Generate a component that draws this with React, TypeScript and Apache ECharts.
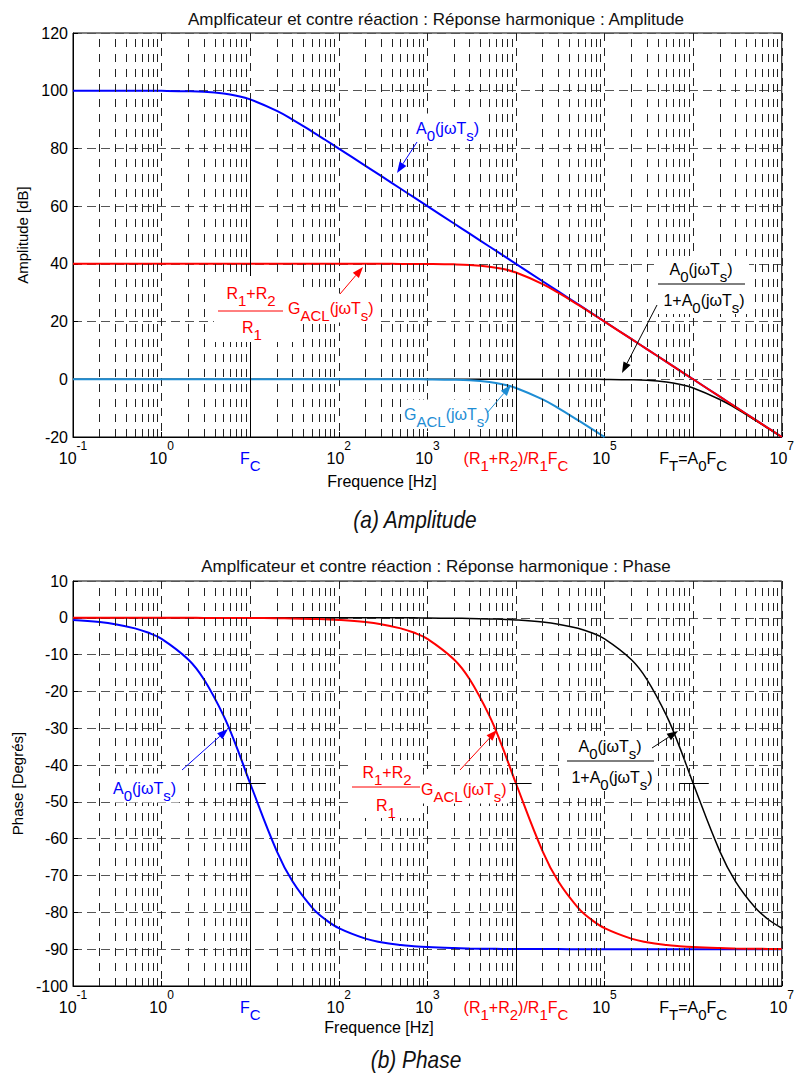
import React, { useEffect, useRef } from 'react';
import * as echarts from 'echarts';

// ---------- data ----------
const FREQ = [
  0.1, 0.2, 0.3, 0.5, 0.7,
  1, 2, 3, 5, 7,
  10, 20, 30, 50, 70,
  100, 200, 300, 500, 700,
  1e3, 2e3, 3e3, 5e3, 7e3,
  1e4, 2e4, 3e4, 5e4, 7e4,
  1e5, 2e5, 3e5, 5e5, 7e5,
  1e6, 2e6, 3e6, 5e6, 7e6,
  1e7,
];

// Amplitude [dB]
const AMP_A0 = [
  100.0, 100.0, 100.0, 99.99, 99.98,
  99.96, 99.83, 99.63, 99.03, 98.27,
  96.99, 93.01, 90.0, 85.85, 83.01,
  79.96, 73.98, 70.46, 66.02, 63.1,
  60.0, 53.98, 50.46, 46.02, 43.1,
  40.0, 33.98, 30.46, 26.02, 23.1,
  20.0, 13.98, 10.46, 6.02, 3.1,
  0.0, -6.02, -9.54, -13.98, -16.9,
  -20.0,
];
const AMP_CL = [
  40, 40, 40, 40, 40,
  40, 40, 40, 40, 40,
  40, 40, 40, 40, 40,
  40.0, 40.0, 40.0, 39.99, 39.98,
  39.96, 39.83, 39.63, 39.03, 38.27,
  36.99, 33.01, 30.0, 25.85, 23.01,
  19.96, 13.98, 10.46, 6.02, 3.1,
  0.0, -6.02, -9.54, -13.98, -16.9,
  -20.0,
];
const AMP_GACL = [
  0, 0, 0, 0, 0,
  0, 0, 0, 0, 0,
  0, 0, 0, 0, 0,
  0.0, 0.0, 0.0, -0.01, -0.02,
  -0.04, -0.17, -0.37, -0.97, -1.73,
  -3.01, -6.99, -10.0, -14.15, -16.99,
  -20.04,
];
const AMP_FB = [
  0, 0, 0, 0, 0,
  0, 0, 0, 0, 0,
  0, 0, 0, 0, 0,
  0, 0, 0, 0, 0,
  0, 0, 0, 0, 0,
  0.0, 0.0, 0.0, -0.01, -0.02,
  -0.04, -0.17, -0.37, -0.97, -1.73,
  -3.01, -6.99, -10.0, -14.15, -16.99,
  -20.04,
];

// Phase [degrees]
const PH_A0 = [
  -0.57, -1.15, -1.72, -2.86, -4.0,
  -5.71, -11.31, -16.7, -26.57, -34.99,
  -45.0, -63.43, -71.57, -78.69, -81.87,
  -84.29, -87.14, -88.09, -88.85, -89.18,
  -89.43, -89.71, -89.81, -89.89, -89.92,
  -89.94, -89.97, -89.98, -89.99, -89.99,
  -89.99, -90.0, -90.0, -90.0, -90.0,
  -90.0, -90.0, -90.0, -90.0, -90.0,
  -90.0,
];
const PH_CL = [
  0, 0, 0, 0, 0,
  -0.01, -0.01, -0.02, -0.03, -0.04,
  -0.06, -0.11, -0.17, -0.29, -0.4,
  -0.57, -1.15, -1.72, -2.86, -4.0,
  -5.71, -11.31, -16.7, -26.57, -34.99,
  -45.0, -63.43, -71.57, -78.69, -81.87,
  -84.29, -87.14, -88.09, -88.85, -89.18,
  -89.43, -89.71, -89.81, -89.89, -89.92,
  -89.94,
];
const PH_FB = [
  0, 0, 0, 0, 0,
  0, 0, 0, 0, 0,
  0, 0, 0, 0, 0,
  0, 0, 0, 0, 0,
  -0.06, -0.11, -0.17, -0.29, -0.4,
  -0.57, -1.15, -1.72, -2.86, -4.0,
  -5.71, -11.31, -16.7, -26.57, -34.99,
  -45.0, -63.43, -71.57, -78.69, -81.87,
  -84.29,
];

// tick labels of the log axis (10^-1 ... 10^7)
const X_TICK_LABELS = [
  '{n|10}{sup|-1}',
  '{n|10}{sup|0}',
  '{b|F}{bs|C}',
  '{n|10}{sup|2}',
  '{n|10}{sup|3}',
  '{r|(R}{rs|1}{r|+R}{rs|2}{r|)/R}{rs|1}{r|F}{rs|C}',
  '{n|10}{sup|5}',
  '{n|F}{ns|T}{n|=A}{ns|0}{n|F}{ns|C}',
  '{n|10}{sup|7}',
];
const AMP_AXIS = { min: -20, max: 120, interval: 20 };
const PH_AXIS = { min: -100, max: 10, interval: 10 };

// characteristic frequencies (index in FREQ)
const IDX_FC = 10;   // 10 Hz
const IDX_CL = 25;   // 1e4 Hz
const IDX_FT = 35;   // 1e6 Hz
const MARK45 = [[7, 15], [7e3, 1.5e4], [7e5, 1.5e6]];

// ---------- styling ----------
const FONT = '"Liberation Sans", Arial, Helvetica, sans-serif';
const BLUE = '#0000ff';
const RED = '#ff0000';
const LBLUE = '#1e8dd4';
const BLACK = '#000000';

const MINOR_X: number[] = [];
for (let e = -1; e < 7; e++) {
  for (let m = 2; m <= 9; m++) MINOR_X.push(m * Math.pow(10, e));
}

function pairs(vals: number[]) {
  return vals.map((v, i) => [FREQ[i], v]);
}

function axisRich() {
  const mk = (c: string) => ({
    base: { fontSize: 16, color: c, fontFamily: FONT },
    sub: { fontSize: 15, color: c, fontFamily: FONT, padding: [14, 0, 0, 0] },
  });
  const k = mk(BLACK), b = mk(BLUE), r = mk(RED);
  return {
    n: k.base,
    ns: k.sub,
    sup: { fontSize: 12, color: BLACK, fontFamily: FONT, padding: [0, 0, 24, 0] },
    b: b.base,
    bs: b.sub,
    r: r.base,
    rs: r.sub,
  };
}

function annRich(c: string) {
  return {
    a: { fontSize: 16, fontFamily: FONT, fill: c, color: c },
    as: { fontSize: 15, fontFamily: FONT, fill: c, color: c, padding: [14, 0, 0, 0] },
  };
}

function txt(text: string, x: number, y: number, color: string, align: string, bg = true) {
  return {
    type: 'text',
    z: 100,
    x,
    y,
    style: {
      text,
      x: 0,
      y: 0,
      rich: annRich(color),
      fill: color,
      fontFamily: FONT,
      fontSize: 16,
      align,
      verticalAlign: 'middle',
      textAlign: align,
      textVerticalAlign: 'middle',
      backgroundColor: bg ? '#ffffff' : undefined,
      padding: bg ? [0, 3, 0, 3] : 0,
    },
  };
}

function arrow(x1: number, y1: number, x2: number, y2: number, color: string) {
  const dx = x2 - x1, dy = y2 - y1;
  const L = Math.hypot(dx, dy);
  const ux = dx / L, uy = dy / L;
  const hl = 11, hw = 4;
  const bx = x2 - ux * hl, by = y2 - uy * hl;
  return [
    { type: 'line', z: 101, shape: { x1, y1, x2: bx, y2: by }, style: { stroke: color, lineWidth: 1 } },
    {
      type: 'polygon',
      z: 101,
      shape: { points: [[x2, y2], [bx - uy * hw, by + ux * hw], [bx + uy * hw, by - ux * hw]] },
      style: { fill: color },
    },
  ];
}

function bar(x1: number, x2: number, y: number, color: string) {
  return { type: 'line', z: 101, shape: { x1, y1: y, x2, y2: y }, style: { stroke: color, lineWidth: 1 } };
}

function whiteBox(x: number, y: number, w: number, h: number) {
  return { type: 'rect', z: 99, shape: { x, y, width: w, height: h }, style: { fill: '#ffffff' } };
}

const A0_TXT = '{a|A}{as|0}{a|(jωT}{as|s}{a|)}';
const ONE_A0_TXT = '{a|1+A}{as|0}{a|(jωT}{as|s}{a|)}';
const R12_TXT = '{a|R}{as|1}{a|+R}{as|2}';
const R1_TXT = '{a|R}{as|1}';
const GACL_TXT = '{a|G}{as|ACL}{a|(jωT}{as|s}{a|)}';

export default function App() {
  const ref = useRef<HTMLDivElement>(null);

  useEffect(() => {
    if (!ref.current) return;
    const chart = echarts.init(ref.current, undefined, { renderer: 'svg' });

    const xAxisFor = (gi: number) => ({
      type: 'log',
      logBase: 10,
      gridIndex: gi,
      min: 0.1,
      max: 1e7,
      splitNumber: 8,
      axisLine: { show: true, onZero: false, lineStyle: { color: BLACK, width: 1 } },
      axisTick: { show: true, inside: true, length: 5, lineStyle: { color: BLACK } },
      axisLabel: {
        margin: 3,
        lineHeight: 36,
        formatter: (v: number) => X_TICK_LABELS[Math.round(Math.log10(v)) + 1] || '',
        rich: axisRich(),
      },
      splitLine: { show: true, lineStyle: { type: [8, 7], color: '#222', width: 1 } },
    });

    const yAxisFor = (gi: number, ax: any, name: string, gap: number) => ({
      type: 'value',
      gridIndex: gi,
      min: ax.min,
      max: ax.max,
      interval: ax.interval,
      name,
      nameLocation: 'middle',
      nameGap: gap,
      nameRotate: 90,
      nameTextStyle: { fontSize: 15, fontFamily: FONT, color: BLACK },
      axisLine: { show: true, lineStyle: { color: BLACK, width: 1 } },
      axisTick: { show: true, inside: true, length: 5, lineStyle: { color: BLACK } },
      axisLabel: { margin: 5, fontSize: 16, fontFamily: FONT, color: BLACK },
      splitLine: { show: true, lineStyle: { type: [9, 5], color: '#555', width: 1 } },
    });

    const gridLines = (gi: number) => ({
      type: 'line',
      xAxisIndex: gi,
      yAxisIndex: gi,
      data: [],
      z: 1,
      silent: true,
      markLine: {
        silent: true,
        symbol: ['none', 'none'],
        label: { show: false },
        lineStyle: { type: [8, 7], color: '#222', width: 1 },
        data: MINOR_X.map((v) => ({ xAxis: v })),
      },
    });

    const refLines = (gi: number, segs: any[]) => ({
      type: 'line',
      xAxisIndex: gi,
      yAxisIndex: gi,
      data: [],
      z: 1,
      silent: true,
      markLine: {
        silent: true,
        symbol: ['none', 'none'],
        label: { show: false },
        lineStyle: { type: 'solid', color: BLACK, width: 1 },
        data: segs,
      },
    });

    const curve = (gi: number, vals: number[], color: string, width: number, z: number) => ({
      type: 'line',
      xAxisIndex: gi,
      yAxisIndex: gi,
      data: pairs(vals),
      showSymbol: false,
      symbol: 'none',
      smooth: 0.4,
      z,
      lineStyle: { color, width },
    });

    const ampSegs = [
      [{ coord: [FREQ[IDX_FC], AMP_AXIS.min] }, { coord: [FREQ[IDX_FC], AMP_A0[IDX_FC]] }],
      [{ coord: [FREQ[IDX_CL], AMP_AXIS.min] }, { coord: [FREQ[IDX_CL], AMP_CL[IDX_CL]] }],
      [{ coord: [FREQ[IDX_FT], AMP_AXIS.min] }, { coord: [FREQ[IDX_FT], AMP_FB[IDX_FT]] }],
    ];
    const phSegs = [
      [{ coord: [FREQ[IDX_FC], PH_AXIS.min] }, { coord: [FREQ[IDX_FC], PH_A0[IDX_FC]] }],
      [{ coord: [FREQ[IDX_CL], PH_AXIS.min] }, { coord: [FREQ[IDX_CL], PH_CL[IDX_CL]] }],
      [{ coord: [FREQ[IDX_FT], PH_AXIS.min] }, { coord: [FREQ[IDX_FT], PH_FB[IDX_FT]] }],
      ...MARK45.map(([a, b], i) => {
        const y = [PH_A0[IDX_FC], PH_CL[IDX_CL], PH_FB[IDX_FT]][i];
        return [{ coord: [a, y] }, { coord: [b, y] }];
      }),
    ];

    const graphic: any[] = [
      // x axis names
      { type: 'text', z: 100, x: 382, y: 481, style: { text: 'Frequence [Hz]', x: 0, y: 0, fontSize: 16, fontFamily: FONT, fill: BLACK, align: 'center', verticalAlign: 'middle', textAlign: 'center', textVerticalAlign: 'middle' } },
      { type: 'text', z: 100, x: 379, y: 1027, style: { text: 'Frequence [Hz]', x: 0, y: 0, fontSize: 16, fontFamily: FONT, fill: BLACK, align: 'center', verticalAlign: 'middle', textAlign: 'center', textVerticalAlign: 'middle' } },
      // captions
      { type: 'text', z: 100, x: 415, y: 520, scaleX: 0.87, style: { text: '(a) Amplitude', x: 0, y: 0, fontSize: 24, fontStyle: 'italic', fontFamily: FONT, fill: '#111', align: 'center', verticalAlign: 'middle', textAlign: 'center', textVerticalAlign: 'middle' } },
      { type: 'text', z: 100, x: 416, y: 1060, scaleX: 0.87, style: { text: '(b) Phase', x: 0, y: 0, fontSize: 24, fontStyle: 'italic', fontFamily: FONT, fill: '#111', align: 'center', verticalAlign: 'middle', textAlign: 'center', textVerticalAlign: 'middle' } },

      // ---- amplitude annotations ----
      txt(A0_TXT, 413, 128, BLUE, 'left'),
      ...arrow(417, 142, 397, 173, BLUE),

      whiteBox(214, 276, 80, 66),
      txt(R12_TXT, 251, 293, RED, 'center', false),
      bar(218, 283, 311, RED),
      txt(R1_TXT, 252, 327, RED, 'center', false),
      txt(GACL_TXT, 285, 308, RED, 'left'),
      ...arrow(340, 294, 363, 267, RED),

      whiteBox(654, 256, 95, 58),
      txt(A0_TXT, 701, 269, BLACK, 'center', false),
      bar(658, 745, 284, BLACK),
      txt(ONE_A0_TXT, 704, 300, BLACK, 'center', false),
      ...arrow(657, 305, 622, 373, BLACK),

      txt(GACL_TXT, 401, 414, LBLUE, 'left'),
      ...arrow(487, 413, 511, 385, LBLUE),

      // ---- phase annotations ----
      txt(A0_TXT, 110, 788, BLUE, 'left'),
      ...arrow(182, 770, 228, 729, BLUE),

      whiteBox(348, 760, 74, 58),
      txt(R12_TXT, 387, 772, RED, 'center', false),
      bar(352, 420, 787, RED),
      txt(R1_TXT, 386, 805, RED, 'center', false),
      txt(GACL_TXT, 418, 789, RED, 'left'),
      ...arrow(460, 770, 497, 730, RED),

      whiteBox(563, 736, 95, 55),
      txt(A0_TXT, 610, 746, BLACK, 'center', false),
      bar(567, 654, 761, BLACK),
      txt(ONE_A0_TXT, 612, 777, BLACK, 'center', false),
      ...arrow(652, 748, 678, 731, BLACK),
    ];

    const titleStyle = { fontSize: 17, fontWeight: 'normal', fontFamily: FONT, color: '#111' };

    chart.setOption({
      animation: false,
      backgroundColor: '#ffffff',
      title: [
        { text: 'Amplficateur et contre réaction : Réponse harmonique : Amplitude', left: 431, top: 6, textAlign: 'center', textStyle: titleStyle },
        { text: 'Amplficateur et contre réaction : Réponse harmonique : Phase', left: 431, top: 553, textAlign: 'center', textStyle: titleStyle },
      ],
      grid: [
        { left: 73, top: 33, width: 715, height: 404, show: true, borderColor: BLACK, borderWidth: 1, backgroundColor: '#fff' },
        { left: 73, top: 581, width: 715, height: 405, show: true, borderColor: BLACK, borderWidth: 1, backgroundColor: '#fff' },
      ],
      xAxis: [xAxisFor(0), xAxisFor(1)],
      yAxis: [
        yAxisFor(0, AMP_AXIS, 'Amplitude [dB]', 42),
        yAxisFor(1, PH_AXIS, 'Phase [Degrés]', 46),
      ],
      series: [
        gridLines(0),
        gridLines(1),
        refLines(0, ampSegs),
        refLines(1, phSegs),
        curve(0, AMP_A0, BLUE, 2, 3),
        curve(0, AMP_FB, BLACK, 1.5, 3),
        curve(0, AMP_GACL, LBLUE, 2, 3),
        curve(0, AMP_CL, RED, 2, 3),
        curve(1, PH_A0, BLUE, 2, 3),
        curve(1, PH_FB, BLACK, 1.5, 3),
        curve(1, PH_CL, RED, 2, 3),
      ],
      graphic,
    });

    return () => chart.dispose();
  }, []);

  return (
    <div
      ref={ref}
      style={{ position: 'fixed', left: 0, top: 0, width: 797, height: 1079, background: '#fff' }}
    />
  );
}
